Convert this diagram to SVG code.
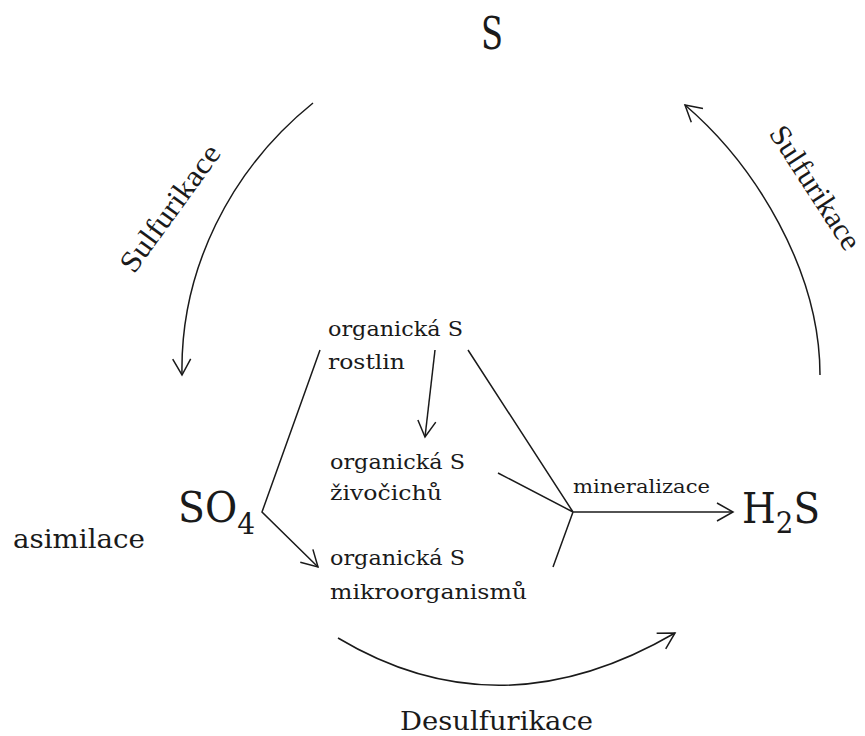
<svg xmlns="http://www.w3.org/2000/svg" width="865" height="736" viewBox="0 0 865 736">
<style>
.t{font-family:"DejaVu Serif","Liberation Serif",serif;fill:#1a1a1a}
.r{font-family:"Liberation Serif","Times New Roman",serif;fill:#1a1a1a}
.c{fill:none;stroke:#1a1a1a;stroke-width:1.5}
</style>
<defs>
<marker id="ah" viewBox="-18 -10 20 20" refX="0" refY="0" markerWidth="20" markerHeight="20" markerUnits="userSpaceOnUse" orient="auto">
<path d="M-16,-9 L0,0 L-16,9" fill="none" stroke="#1a1a1a" stroke-width="1.5"/>
</marker>
</defs>
<rect width="865" height="736" fill="#fff"/>
<g id="connectors">
<path class="c" d="M313,103 C230,170 180,270 182,375" marker-end="url(#ah)"/>
<path class="c" d="M820,375 C820,270 755,165 685,105" marker-end="url(#ah)"/>
<path class="c" d="M338,638 Q500,735 675,633" marker-end="url(#ah)"/>
<path class="c" d="M435,350 L425,437" marker-end="url(#ah)"/>
<path class="c" d="M320,350 L262,512 L318,567" marker-end="url(#ah)"/>
<path class="c" d="M468,350 L573,512 M498,473 L573,512 M553,567 L573,512"/>
<path class="c" d="M573,512 L733,512" marker-end="url(#ah)"/>
<text class="r" x="178" y="214" font-size="30" text-anchor="middle" textLength="150" lengthAdjust="spacingAndGlyphs" transform="rotate(-54 178 214)">Sulfurikace</text>
<text class="r" x="807" y="193" font-size="30" text-anchor="middle" textLength="142" lengthAdjust="spacingAndGlyphs" transform="rotate(57 807 193)">Sulfurikace</text>
<text class="t" x="573" y="493" font-size="18" textLength="137" lengthAdjust="spacingAndGlyphs">mineralizace</text>
<text class="t" x="400" y="730" font-size="26" textLength="193" lengthAdjust="spacingAndGlyphs">Desulfurikace</text>
<text class="t" x="13" y="548" font-size="26" textLength="132" lengthAdjust="spacingAndGlyphs">asimilace</text>
</g>
<g id="S">
<text class="t" x="481" y="49" font-size="44" textLength="22" lengthAdjust="spacingAndGlyphs">S</text>
</g>
<g id="SO4">
<text class="t" x="178" y="522" font-size="42" textLength="77" lengthAdjust="spacingAndGlyphs">SO<tspan font-size="30" dy="12">4</tspan></text>
</g>
<g id="H2S">
<text class="t" x="742" y="523" font-size="42" textLength="78" lengthAdjust="spacingAndGlyphs">H<tspan font-size="30" dy="10">2</tspan><tspan dy="-10">S</tspan></text>
</g>
<g id="rostlin">
<text class="t" x="328" y="336" font-size="21" textLength="135" lengthAdjust="spacingAndGlyphs">organická S</text>
<text class="t" x="328" y="369" font-size="21" textLength="77" lengthAdjust="spacingAndGlyphs">rostlin</text>
</g>
<g id="zivocichu">
<text class="t" x="330" y="469" font-size="21" textLength="135" lengthAdjust="spacingAndGlyphs">organická S</text>
<text class="t" x="330" y="500" font-size="21" textLength="112" lengthAdjust="spacingAndGlyphs">živočichů</text>
</g>
<g id="mikroorganismu">
<text class="t" x="330" y="565" font-size="21" textLength="135" lengthAdjust="spacingAndGlyphs">organická S</text>
<text class="t" x="330" y="599" font-size="21" textLength="197" lengthAdjust="spacingAndGlyphs">mikroorganismů</text>
</g>
</svg>
